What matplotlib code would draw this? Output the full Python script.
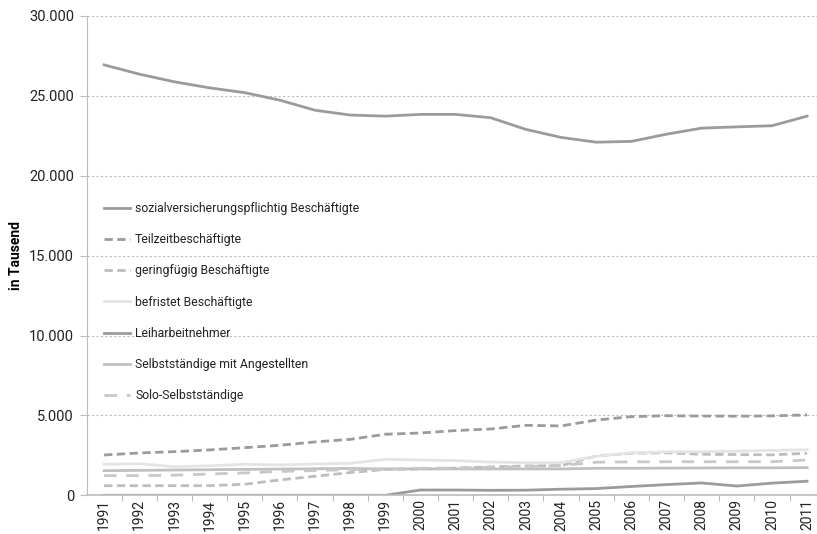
import matplotlib
matplotlib.use("Agg")
import matplotlib.pyplot as plt
from matplotlib.ticker import FuncFormatter, FixedLocator

years = list(range(1991, 2012))

# values in thousand
sv_pflichtig = [26940, 26360, 25880, 25500, 25200, 24730, 24100, 23800, 23730, 23840, 23840,
                23630, 22900, 22400, 22100, 22150, 22600, 22980, 23060, 23130, 23730]
teilzeit = [2520, 2650, 2730, 2840, 2980, 3130, 3340, 3500, 3820, 3900, 4050,
            4150, 4380, 4340, 4710, 4920, 4980, 4960, 4950, 4970, 5030]
geringfuegig = [600, 600, 600, 600, 690, 960, 1190, 1420, 1620, 1650, 1700,
                1780, 1840, 1850, 2460, 2630, 2660, 2570, 2550, 2530, 2630]
befristet = [1940, 1980, 1790, 1850, 1940, 1900, 1960, 2000, 2250, 2210, 2170,
             2080, 2040, 2040, 2440, 2660, 2720, 2720, 2760, 2810, 2850]
leiharbeit = [0, 0, 0, 0, 0, 0, 0, 0, 0, 330, 330,
              310, 320, 380, 420, 550, 670, 770, 580, 760, 880]
selbst_ang = [1540, 1560, 1580, 1600, 1620, 1640, 1660, 1680, 1650, 1650, 1650,
              1650, 1650, 1650, 1690, 1690, 1700, 1710, 1720, 1720, 1730]
solo = [1230, 1230, 1260, 1330, 1400, 1490, 1550, 1600, 1630, 1690, 1700,
        1750, 1800, 1860, 2070, 2090, 2100, 2100, 2100, 2100, 2210]

labels = ["sozialversicherungspflichtig Beschäftigte", "Teilzeitbeschäftigte",
          "geringfügig Beschäftigte", "befristet Beschäftigte", "Leiharbeitnehmer",
          "Selbstständige mit Angestellten", "Solo-Selbstständige"]

plt.rcParams["font.family"] = ["Roboto", "DejaVu Sans"]

fig = plt.figure(figsize=(8.17, 5.34), dpi=100)
ax = fig.add_axes([0.1059, 0.0725, 0.9035, 0.8976])

x = list(range(len(years)))
series = [
    (sv_pflichtig, "#9b9b9b", "-", None),
    (teilzeit, "#9b9b9b", "--", (3, 1.6)),
    (geringfuegig, "#bdbdbd", "--", (3, 1.6)),
    (befristet, "#e4e4e4", "-", None),
    (leiharbeit, "#9b9b9b", "-", None),
    (selbst_ang, "#c0c0c0", "-", None),
    (solo, "#c8c8c8", "--", (4.5, 3.5)),
]
for (vals, col, ls, dash), lab in zip(series, labels):
    line, = ax.plot(x, vals, color=col, lw=2, linestyle=ls, label=lab)
    if dash:
        line.set_dashes(dash)

ax.set_xlim(-0.5, len(years) - 0.5)
ax.set_ylim(0, 30000)
ax.set_yticks(range(0, 30001, 5000))
ax.yaxis.set_major_formatter(FuncFormatter(lambda v, p: f"{int(v):,}".replace(",", ".")))
ax.grid(axis="y", color="#bbbbbb", lw=0.8, linestyle=(0, (2, 2)))
ax.set_axisbelow(True)

ax.set_xticks(x)
ax.set_xticklabels([str(y) for y in years], rotation=90, fontsize=10, color="#222222")
ax.xaxis.set_minor_locator(FixedLocator([i + 0.5 for i in x]))
ax.tick_params(axis="x", which="major", length=0, pad=3)
ax.tick_params(axis="x", which="minor", length=4, color="#aaaaaa", direction="out")
ax.tick_params(axis="y", length=5, color="#bbbbbb", labelsize=10.5, labelcolor="#222222", pad=4)

for s in ["top", "right"]:
    ax.spines[s].set_visible(False)
ax.spines["left"].set_color("#bbbbbb")
ax.spines["bottom"].set_color("#bbbbbb")
ax.spines["bottom"].set_linewidth(1.2)

ax.set_ylabel("in Tausend", fontsize=10, fontweight="bold", labelpad=4)

leg = ax.legend(loc="upper left", bbox_to_anchor=(0.0237, 0.612), frameon=False,
                fontsize=8.8, handlelength=2.13, handletextpad=0.41, labelspacing=1.49,
                borderpad=0, borderaxespad=0)
for t in leg.get_texts():
    t.set_color("#222222")

fig.savefig("out.png", dpi=100)
